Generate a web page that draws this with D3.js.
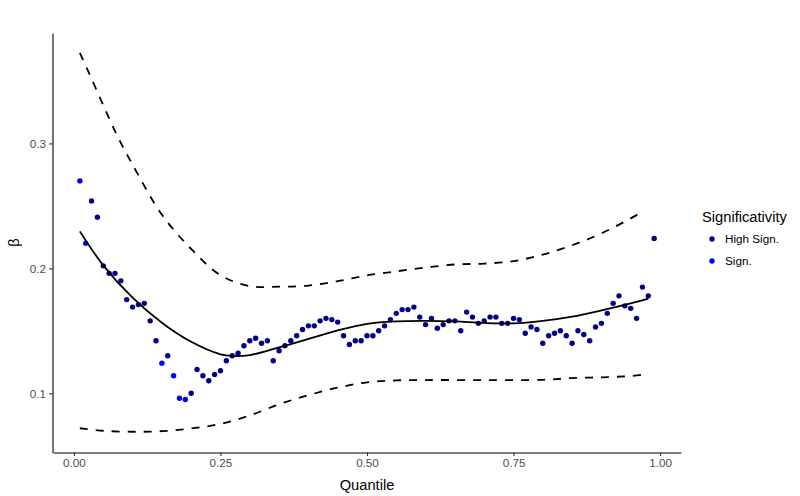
<!DOCTYPE html>
<html>
<head>
<meta charset="utf-8">
<script src="https://cdn.jsdelivr.net/npm/d3@7"></script>
<style>
  body { margin: 0; background: #fff; }
  text { font-family: "Liberation Sans", Arial, sans-serif; }
</style>
</head>
<body>
<svg width="800" height="496"></svg>
<script>
// beta estimate at each quantile 0.01 ... 0.99
const betas = [
  0.270, 0.220, 0.254, 0.241, 0.202, 0.196, 0.196, 0.190, 0.175, 0.169,
  0.171, 0.172, 0.158, 0.142, 0.124, 0.130, 0.114, 0.096, 0.095, 0.100,
  0.119, 0.114, 0.110, 0.115, 0.118, 0.126, 0.130, 0.132, 0.138, 0.142,
  0.144, 0.140, 0.142, 0.126, 0.134, 0.138, 0.142, 0.146, 0.151, 0.154,
  0.154, 0.158, 0.160, 0.159, 0.157, 0.146, 0.139, 0.142, 0.142, 0.146,
  0.146, 0.150, 0.154, 0.159, 0.164, 0.167, 0.167, 0.169, 0.161, 0.155,
  0.160, 0.152, 0.155, 0.158, 0.158, 0.150, 0.165, 0.161, 0.156, 0.158,
  0.161, 0.161, 0.156, 0.156, 0.160, 0.159, 0.148, 0.153, 0.151, 0.140,
  0.146, 0.148, 0.150, 0.146, 0.140, 0.150, 0.147, 0.142, 0.153, 0.156,
  0.164, 0.172, 0.178, 0.170, 0.168, 0.160, 0.185, 0.178, 0.224
];
const quantiles = betas.map((d, i) => (i + 1) / 100);

// quantiles where the estimate is only "Sign." (all others are "High Sign.")
const signOnly = [0.01, 0.02, 0.15, 0.17, 0.18, 0.19];

// smoothed fit and its band
const fitQ     = [0.01, 0.05, 0.10, 0.15, 0.20, 0.25, 0.27, 0.30, 0.35, 0.40, 0.45, 0.50, 0.55, 0.60, 0.65, 0.70, 0.75, 0.80, 0.85, 0.90, 0.95, 0.98];
const fitBeta  = [0.2296, 0.2024, 0.1765, 0.1565, 0.1412, 0.1312, 0.1299, 0.1306, 0.1368, 0.1435, 0.1503, 0.1556, 0.1576, 0.1580, 0.1575, 0.1563, 0.1560, 0.1580, 0.1614, 0.1664, 0.1720, 0.1757];

const upperQ    = [0.01, 0.025, 0.05, 0.075, 0.10, 0.15, 0.20, 0.25, 0.30, 0.35, 0.40, 0.45, 0.50, 0.55, 0.60, 0.65, 0.70, 0.75, 0.80, 0.85, 0.90, 0.95, 0.97];
const upperBeta = [0.3725, 0.3570, 0.3306, 0.3050, 0.2830, 0.2430, 0.2155, 0.1945, 0.1858, 0.1853, 0.1862, 0.1897, 0.1943, 0.1976, 0.2006, 0.2031, 0.2038, 0.2058, 0.2110, 0.2185, 0.2280, 0.2400, 0.2455];

const lowerQ    = [0.01, 0.05, 0.10, 0.15, 0.20, 0.25, 0.30, 0.35, 0.40, 0.45, 0.50, 0.55, 0.60, 0.70, 0.80, 0.85, 0.90, 0.95, 0.97];
const lowerBeta = [0.0720, 0.0700, 0.0692, 0.0697, 0.0718, 0.0755, 0.0822, 0.0912, 0.0985, 0.1045, 0.1088, 0.1103, 0.1106, 0.1106, 0.1108, 0.1122, 0.1128, 0.1138, 0.1148];

const xTicks = [0, 0.25, 0.5, 0.75, 1];
const yTicks = [0.1, 0.2, 0.3];
const legendLabels = ['High Sign.', 'Sign.'];
const legendColors = ['#00008B', '#0000FF'];

const svg = d3.select('svg');

const xScale = d3.scaleLinear()
  .domain([-0.0358, 1.0358])
  .range([53, 681]);

const yScale = d3.scaleLinear()
  .domain([0.0526, 0.3884])
  .range([452.5, 33]);

const color = d3.scaleOrdinal()
  .domain(legendLabels)
  .range(legendColors);

// points
svg.append('g')
  .selectAll('circle')
  .data(quantiles)
  .join('circle')
    .attr('cx', d => xScale(d))
    .attr('cy', (d, i) => yScale(betas[i]))
    .attr('r', 2.7)
    .attr('fill', d => color(signOnly.includes(d) ? 'Sign.' : 'High Sign.'));

// lines
const line = d3.line()
  .x(d => xScale(d[0]))
  .y(d => yScale(d[1]))
  .curve(d3.curveCatmullRom);

svg.append('path')
  .attr('d', line(d3.zip(fitQ, fitBeta)))
  .attr('fill', 'none')
  .attr('stroke', 'black')
  .attr('stroke-width', 1.8);

[[upperQ, upperBeta], [lowerQ, lowerBeta]].forEach(([q, b]) => {
  svg.append('path')
    .attr('d', line(d3.zip(q, b)))
    .attr('fill', 'none')
    .attr('stroke', 'black')
    .attr('stroke-width', 1.8)
    .attr('stroke-dasharray', '8,8');
});

// axes
const xAxis = svg.append('g')
  .attr('transform', 'translate(0, 452.5)')
  .call(d3.axisBottom(xScale).tickValues(xTicks).tickFormat(d3.format('.2f')).tickSize(3.5).tickSizeOuter(0).tickPadding(3));

const yAxis = svg.append('g')
  .attr('transform', 'translate(52.5, 0)')
  .call(d3.axisLeft(yScale).tickValues(yTicks).tickFormat(d3.format('.1f')).tickSize(3.5).tickSizeOuter(0).tickPadding(3));

[xAxis, yAxis].forEach(a => {
  a.select('.domain').attr('stroke', 'black').attr('stroke-width', 1.1);
  a.selectAll('.tick line').attr('stroke', '#333333').attr('stroke-width', 1.1);
  a.selectAll('.tick text')
    .attr('fill', '#4D4D4D')
    .style('font-size', '11.7px')
    .style('font-family', '"Liberation Sans", Arial, sans-serif');
});

// axis titles
svg.append('text')
  .attr('x', 367)
  .attr('y', 490)
  .attr('text-anchor', 'middle')
  .style('font-size', '14.7px')
  .text('Quantile');

svg.append('text')
  .attr('transform', 'translate(19, 242.5) rotate(-90)')
  .attr('text-anchor', 'middle')
  .style('font-size', '14.7px')
  .text('β');

// legend
const legend = svg.append('g')
  .attr('transform', 'translate(702, 0)');

legend.append('text')
  .attr('x', 0)
  .attr('y', 222)
  .style('font-size', '14.7px')
  .text('Significativity');

const items = legend.selectAll('g.item')
  .data(legendLabels)
  .join('g')
    .attr('class', 'item')
    .attr('transform', (d, i) => `translate(0, ${239 + i * 22})`);

items.append('circle')
  .attr('cx', 10)
  .attr('cy', 0)
  .attr('r', 2.7)
  .attr('fill', d => color(d));

items.append('text')
  .attr('x', 23)
  .attr('y', 4)
  .style('font-size', '11.7px')
  .text(d => d);
</script>
</body>
</html>
